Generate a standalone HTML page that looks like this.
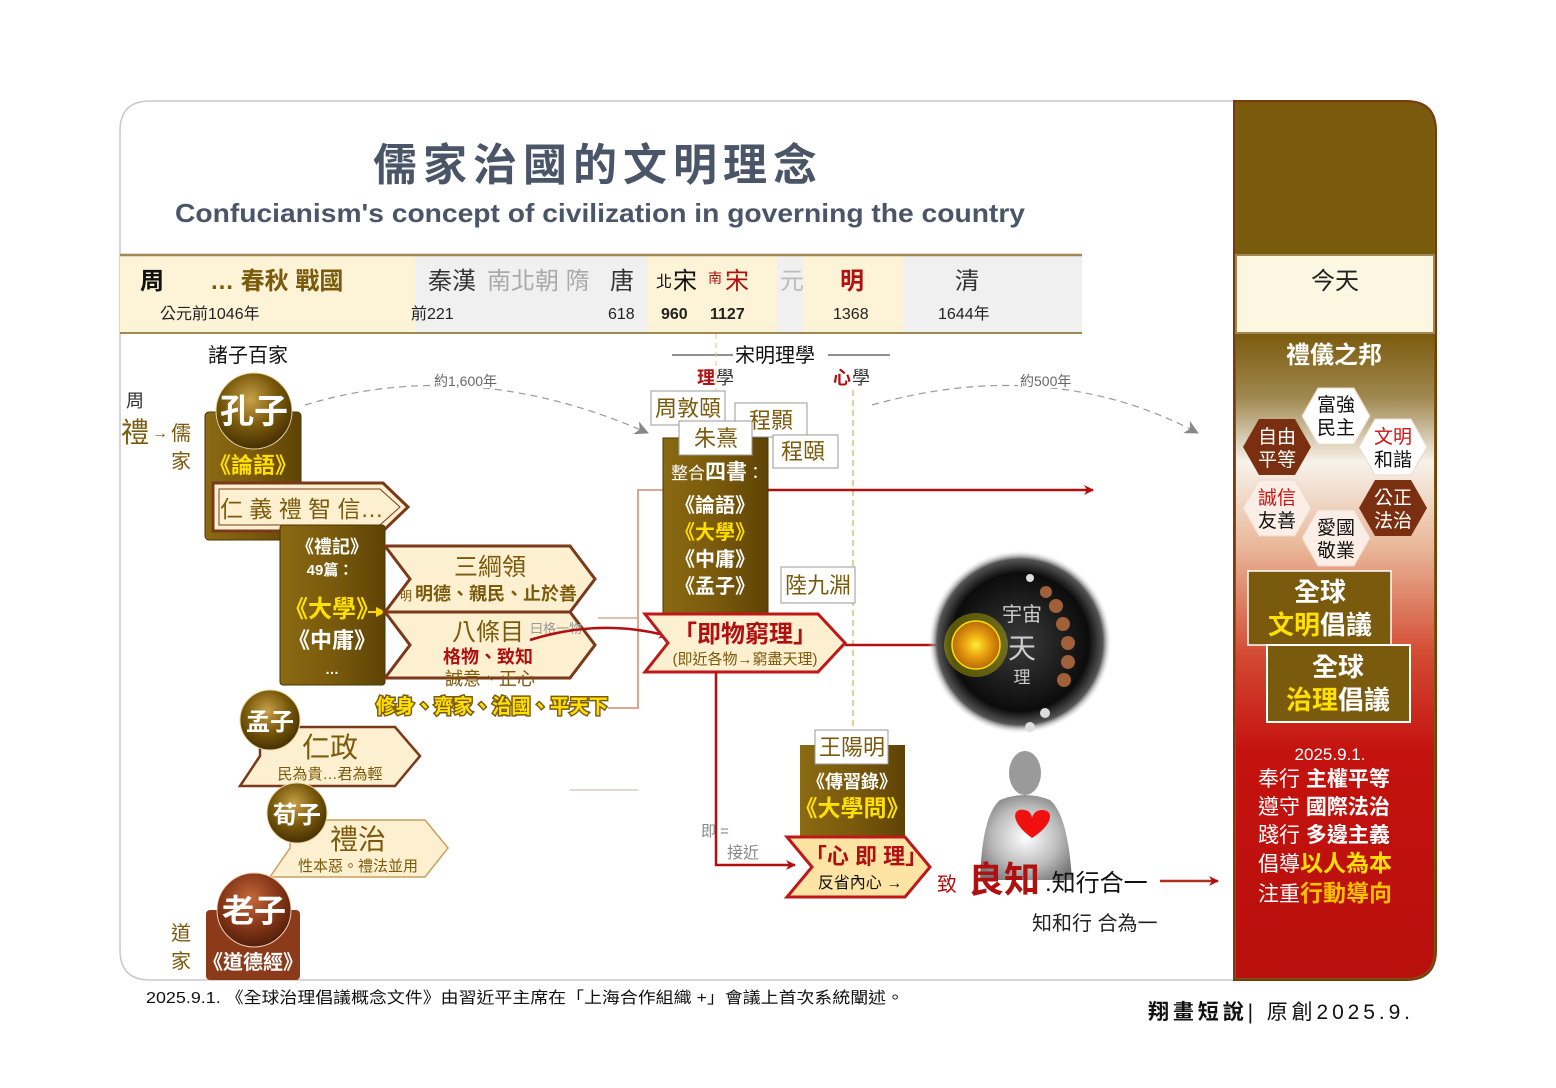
<!DOCTYPE html>
<html><head><meta charset="utf-8"><style>
html,body{margin:0;padding:0;background:#fff;}
svg{display:block;font-family:"Liberation Sans","Noto Sans CJK TC",sans-serif;}
</style></head><body>
<svg width="1556" height="1088" viewBox="0 0 1556 1088" xmlns="http://www.w3.org/2000/svg">
<defs>
<linearGradient id="olive" x1="0" y1="0" x2="1" y2="0"><stop offset="0" stop-color="#8a6a12"/><stop offset="0.5" stop-color="#7a5a0c"/><stop offset="1" stop-color="#5e4306"/></linearGradient>
<radialGradient id="ball" cx="0.45" cy="0.35" r="0.7"><stop offset="0" stop-color="#c9a24a"/><stop offset="0.5" stop-color="#7a5a0c"/><stop offset="1" stop-color="#3e2a02"/></radialGradient>
<radialGradient id="ballR" cx="0.45" cy="0.35" r="0.7"><stop offset="0" stop-color="#c4683a"/><stop offset="0.5" stop-color="#8b3a1a"/><stop offset="1" stop-color="#4a1a08"/></radialGradient>
<linearGradient id="right" x1="0" y1="0" x2="0" y2="1">
<stop offset="0" stop-color="#7a5a0c"/><stop offset="0.1" stop-color="#a08850"/><stop offset="0.2" stop-color="#f6f2ea"/><stop offset="0.33" stop-color="#e9b89a"/><stop offset="0.5" stop-color="#d34a32"/><stop offset="0.65" stop-color="#c4120f"/><stop offset="1" stop-color="#b8100c"/></linearGradient>
<radialGradient id="sphere" cx="0.5" cy="0.5" r="0.5"><stop offset="0" stop-color="#3a3a3a"/><stop offset="0.75" stop-color="#0c0c0c"/><stop offset="0.9" stop-color="#555"/><stop offset="1" stop-color="#fff" stop-opacity="0"/></radialGradient>
<radialGradient id="sun" cx="0.5" cy="0.5" r="0.5"><stop offset="0" stop-color="#ffee30"/><stop offset="0.5" stop-color="#e8a010"/><stop offset="1" stop-color="#b86a08"/></radialGradient>
<radialGradient id="man" cx="0.5" cy="0.5" r="0.6"><stop offset="0" stop-color="#fff"/><stop offset="0.6" stop-color="#bbb"/><stop offset="1" stop-color="#777"/></radialGradient>
<marker id="ar" markerWidth="10" markerHeight="10" refX="9" refY="5" orient="auto" markerUnits="userSpaceOnUse"><path d="M0,0 L10,5 L0,10 L3,5z" fill="#b01010"/></marker>
<marker id="ag" markerWidth="14" markerHeight="14" refX="13" refY="7" orient="auto" markerUnits="userSpaceOnUse"><path d="M0,0 L14,7 L0,14 L4,7z" fill="#888"/></marker>
<marker id="ay" markerWidth="10" markerHeight="10" refX="9" refY="5" orient="auto" markerUnits="userSpaceOnUse"><path d="M0,0 L10,5 L0,10z" fill="#ffd800"/></marker>
</defs>

<path d="M150,101 H1234 V980 H150 Q120,980 120,950 V131 Q120,101 150,101z" fill="#fff" stroke="#c8c8c8" stroke-width="1.5"/>
<path d="M1234,101 H1406 Q1436,101 1436,131 V950 Q1436,980 1406,980 H1234z" fill="#7a5a0c" stroke="#7a3a10" stroke-width="2"/>
<path d="M1236,333 H1434 V950 Q1434,978 1406,978 H1236z" fill="url(#right)"/>
<rect x="1236" y="255" width="198" height="78" fill="#fdf6e0" stroke="#a08850" stroke-width="2"/>
<text x="1335" y="289" font-size="24" text-anchor="middle" fill="#222">今天</text>

<text x="598" y="180" font-size="44" font-weight="bold" text-anchor="middle" fill="#4a5568" letter-spacing="6">儒家治國的文明理念</text>
<text x="600" y="222" font-size="26" font-weight="bold" text-anchor="middle" fill="#4a5568" textLength="850" lengthAdjust="spacingAndGlyphs">Confucianism's concept of civilization in governing the country</text>

<rect x="120" y="256" width="295" height="77" fill="#fdf3d6"/>
<rect x="415" y="256" width="233" height="77" fill="#f0f0f0"/>
<rect x="648" y="256" width="129" height="77" fill="#fdf3d6"/>
<rect x="777" y="256" width="26" height="77" fill="#f0f0f0"/>
<rect x="803" y="256" width="100" height="77" fill="#fdf3d6"/>
<rect x="903" y="256" width="179" height="77" fill="#f0f0f0"/>
<line x1="120" y1="255" x2="1082" y2="255" stroke="#a08850" stroke-width="2.5"/>
<line x1="120" y1="333" x2="1082" y2="333" stroke="#a08850" stroke-width="2"/>
<g font-size="24">
<text x="140" y="289" font-weight="bold" fill="#111">周</text>
<text x="210" y="289" font-weight="bold" fill="#7a5a0c">… 春秋  戰國</text>
<text x="428" y="289" fill="#333">秦漢</text>
<text x="487" y="289" fill="#aaa">南北朝 隋</text>
<text x="610" y="289" fill="#333">唐</text>
<text x="656" y="287" font-size="16" fill="#111">北</text><text x="673" y="289" fill="#111">宋</text>
<text x="708" y="283" font-size="14" fill="#b01010">南</text><text x="725" y="289" fill="#b01010">宋</text>
<text x="780" y="289" fill="#bbb">元</text>
<text x="840" y="289" font-weight="bold" fill="#b01010">明</text>
<text x="955" y="289" fill="#333">清</text>
</g>
<g font-size="16" fill="#222">
<text x="160" y="319">公元前1046年</text><text x="411" y="319">前221</text><text x="608" y="319">618</text>
<text x="661" y="319" font-weight="bold">960</text><text x="710" y="319" font-weight="bold">1127</text>
<text x="833" y="319">1368</text><text x="938" y="319">1644年</text>
</g>

<text x="208" y="362" font-size="20" fill="#111">諸子百家</text>
<text x="126" y="407" font-size="18" fill="#333">周</text>
<text x="121" y="442" font-size="28" fill="#7a5a0c">禮</text>
<text x="152" y="438" font-size="16" fill="#7a5a0c">→</text>
<text x="171" y="440" font-size="20" fill="#7a5a0c">儒</text>
<text x="171" y="468" font-size="20" fill="#7a5a0c">家</text>
<text x="171" y="940" font-size="20" fill="#7a5a0c">道</text>
<text x="171" y="968" font-size="20" fill="#7a5a0c">家</text>

<path d="M305,405 Q470,355 648,433" fill="none" stroke="#999" stroke-width="1.2" stroke-dasharray="7,5" marker-end="url(#ag)"/>
<rect x="432" y="372" width="74" height="16" fill="#fff"/>
<text x="434" y="386" font-size="14" fill="#666">約1,600年</text>
<path d="M872,405 Q1050,355 1198,433" fill="none" stroke="#999" stroke-width="1.2" stroke-dasharray="7,5" marker-end="url(#ag)"/>
<rect x="1018" y="372" width="62" height="16" fill="#fff"/>
<text x="1020" y="386" font-size="14" fill="#666">約500年</text>

<rect x="205" y="412" width="96" height="128" rx="4" fill="url(#olive)" stroke="#4a3405"/>
<circle cx="254" cy="411" r="38" fill="url(#ball)" stroke="#e8d8a0" stroke-width="1"/>
<text x="254" y="423" font-size="34" font-weight="bold" text-anchor="middle" fill="#fff">孔子</text>
<text x="253" y="473" font-size="22" font-weight="bold" text-anchor="middle" fill="#ffe000">《論語》</text>
<polygon points="213,483 383,483 408,507 383,531 213,531" fill="#fdf0d0" stroke="#7a3a1a" stroke-width="3"/>
<polygon points="219,489 380,489 400,507 380,525 219,525" fill="none" stroke="#7a3a1a" stroke-width="1"/>
<text x="220" y="517" font-size="23" fill="#7a5a0c">仁 義 禮 智 信…</text>

<rect x="280" y="525" width="105" height="160" rx="3" fill="url(#olive)" stroke="#4a3405"/>
<text x="332" y="553" font-size="18" font-weight="bold" text-anchor="middle" fill="#fff">《禮記》</text>
<text x="330" y="575" font-size="15" font-weight="bold" text-anchor="middle" fill="#fff">49篇：</text>
<text x="332" y="617" font-size="24" font-weight="bold" text-anchor="middle" fill="#ffe000">《大學》</text>
<text x="332" y="648" font-size="22" font-weight="bold" text-anchor="middle" fill="#fff">《中庸》</text>
<text x="332" y="674" font-size="14" font-weight="bold" text-anchor="middle" fill="#fff">…</text>
<line x1="368" y1="612" x2="385" y2="612" stroke="#ffd800" stroke-width="2" marker-end="url(#ay)"/>

<polygon points="385,546 570,546 595,579 570,612 385,612 410,579" fill="#fdf0d0" stroke="#7a3a1a" stroke-width="3"/>
<polygon points="385,612 570,612 595,645 570,678 385,678 410,645" fill="#fdf0d0" stroke="#7a3a1a" stroke-width="3"/>
<text x="490" y="575" font-size="24" text-anchor="middle" fill="#7a5a0c">三綱領</text>
<text x="400" y="600" font-size="12" fill="#7a5a0c">明</text>
<text x="415" y="600" font-size="18" font-weight="bold" fill="#7a5a0c">明德、親民、止於善</text>
<text x="488" y="640" font-size="24" text-anchor="middle" fill="#7a5a0c">八條目</text>
<text x="530" y="633" font-size="13" fill="#999">曰格一物</text>
<text x="443" y="663" font-size="18" font-weight="bold" fill="#b01010">格物、致知</text>
<text x="445" y="685" font-size="18" fill="#7a5a0c">誠意、正心</text>
<g font-size="20" font-weight="bold" fill="#ffe000" stroke="#7a5a0c" stroke-width="3" paint-order="stroke">
<text x="376" y="713" textLength="232" lengthAdjust="spacingAndGlyphs">修身、齊家、治國、平天下</text></g>

<polygon points="260,727 395,727 420,756 395,786 240,786 260,756" fill="#fdf0d0" stroke="#7a3a1a" stroke-width="2.5"/>
<circle cx="270" cy="720" r="30" fill="url(#ball)" stroke="#e8d8a0"/>
<text x="270" y="730" font-size="24" font-weight="bold" text-anchor="middle" fill="#fff">孟子</text>
<text x="330" y="757" font-size="28" text-anchor="middle" fill="#7a5a0c">仁政</text>
<text x="330" y="779" font-size="15" text-anchor="middle" fill="#7a5a0c">民為貴…君為輕</text>
<polygon points="290,820 425,820 448,848 425,877 270,877 290,848" fill="#fdf0d0" stroke="#c8a060" stroke-width="1.5"/>
<circle cx="297" cy="813" r="30" fill="url(#ball)" stroke="#e8d8a0"/>
<text x="297" y="823" font-size="24" font-weight="bold" text-anchor="middle" fill="#fff">荀子</text>
<text x="358" y="849" font-size="28" text-anchor="middle" fill="#7a5a0c">禮治</text>
<text x="358" y="871" font-size="15" text-anchor="middle" fill="#7a5a0c">性本惡。禮法並用</text>
<rect x="206" y="910" width="94" height="70" rx="4" fill="#8b3a1a"/>
<circle cx="254" cy="910" r="37" fill="url(#ballR)" stroke="#f0d0b0"/>
<text x="254" y="922" font-size="32" font-weight="bold" text-anchor="middle" fill="#fff">老子</text>
<text x="253" y="969" font-size="20" font-weight="bold" text-anchor="middle" fill="#fff">《道德經》</text>

<line x1="672" y1="355" x2="733" y2="355" stroke="#222"/>
<line x1="828" y1="355" x2="890" y2="355" stroke="#222"/>
<text x="735" y="362" font-size="20" fill="#111">宋明理學</text>
<text x="697" y="384" font-size="18" font-weight="bold" fill="#b01010">理</text><text x="716" y="384" font-size="18" fill="#333">學</text>
<text x="833" y="384" font-size="18" font-weight="bold" fill="#b01010">心</text><text x="852" y="384" font-size="18" fill="#333">學</text>
<line x1="716" y1="334" x2="716" y2="392" stroke="#d8c890" stroke-dasharray="5,4"/>
<line x1="853" y1="390" x2="853" y2="900" stroke="#c8b060" stroke-width="1.2" stroke-dasharray="6,4"/>

<path d="M663,490 H638 V708 H608" fill="none" stroke="#d8a890" stroke-width="2"/>
<line x1="598" y1="618" x2="638" y2="618" stroke="#d8a890" stroke-width="1.5"/>
<line x1="570" y1="790" x2="638" y2="790" stroke="#d8c8c0" stroke-width="1.5"/>
<line x1="768" y1="490" x2="1093" y2="490" stroke="#b01010" stroke-width="2.5" marker-end="url(#ar)"/>
<path d="M530,640 Q600,618 668,636" fill="none" stroke="#b01010" stroke-width="2.5" marker-end="url(#ar)"/>

<rect x="663" y="438" width="105" height="176" fill="url(#olive)" stroke="#4a3405"/>
<rect x="651" y="391" width="74" height="34" fill="#fff" stroke="#999"/>
<text x="688" y="416" font-size="22" text-anchor="middle" fill="#7a5a0c">周敦頤</text>
<rect x="735" y="403" width="72" height="34" fill="#fff" stroke="#999"/>
<text x="771" y="428" font-size="22" text-anchor="middle" fill="#7a5a0c">程顥</text>
<rect x="773" y="435" width="65" height="33" fill="#fff" stroke="#999"/>
<text x="803" y="459" font-size="22" text-anchor="middle" fill="#7a5a0c">程頤</text>
<rect x="679" y="421" width="73" height="34" fill="#fff" stroke="#999"/>
<text x="716" y="446" font-size="22" text-anchor="middle" fill="#7a5a0c">朱熹</text>
<text x="671" y="479" font-size="17" fill="#fff">整合<tspan font-size="21" font-weight="bold">四書</tspan>：</text>
<g font-size="20" font-weight="bold" text-anchor="middle" fill="#fff">
<text x="715" y="512">《論語》</text><text x="715" y="539" fill="#ffe000">《大學》</text><text x="715" y="566">《中庸》</text><text x="715" y="593">《孟子》</text></g>
<rect x="781" y="567" width="74" height="36" fill="#fff" stroke="#999"/>
<text x="818" y="593" font-size="22" text-anchor="middle" fill="#7a5a0c">陸九淵</text>

<polygon points="645,614 818,614 845,643 818,672 645,672 668,643" fill="#fdf0d0" stroke="#c01818" stroke-width="3"/>
<text x="745" y="642" font-size="24" font-weight="bold" text-anchor="middle" fill="#b01010">「即物窮理」</text>
<text x="745" y="664" font-size="15" text-anchor="middle" fill="#7a5a0c">(即近各物→窮盡天理)</text>
<line x1="845" y1="645" x2="945" y2="645" stroke="#b01010" stroke-width="2.5" marker-end="url(#ar)"/>
<path d="M716,672 V865 H795" fill="none" stroke="#b01010" stroke-width="2.5" marker-end="url(#ar)"/>
<text x="701" y="836" font-size="15" fill="#888">即 =</text>
<text x="727" y="858" font-size="16" fill="#888">接近</text>

<circle cx="1020" cy="642" r="92" fill="url(#sphere)"/>
<g fill="#a0603a"><circle cx="1046" cy="592" r="6"/><circle cx="1056" cy="606" r="7"/><circle cx="1063" cy="624" r="7"/><circle cx="1068" cy="643" r="7"/><circle cx="1068" cy="662" r="7"/><circle cx="1064" cy="680" r="7"/></g>
<g fill="#ddd"><circle cx="1030" cy="578" r="4"/><circle cx="1045" cy="713" r="5"/><circle cx="1030" cy="727" r="5"/></g>
<circle cx="976" cy="645" r="32" fill="#e8e000" opacity="0.35"/>
<circle cx="976" cy="645" r="24" fill="url(#sun)" stroke="#ffe000" stroke-width="1.5"/>
<text x="1022" y="621" font-size="20" text-anchor="middle" fill="#ccc">宇宙</text>
<text x="1022" y="658" font-size="28" text-anchor="middle" fill="#ccc">天</text>
<text x="1022" y="683" font-size="17" text-anchor="middle" fill="#ccc">理</text>

<ellipse cx="1025" cy="773" rx="16" ry="22" fill="#9a9a9a"/>
<path d="M1000,800 Q1025,790 1050,800 Q1068,815 1072,880 L980,880 Q982,815 1000,800z" fill="url(#man)"/>
<path d="M1032,838 C1010,822 1012,808 1024,810 C1030,810 1032,816 1032,818 C1033,814 1036,810 1042,810 C1054,810 1054,824 1032,838z" fill="#f01010"/>

<rect x="800" y="745" width="105" height="95" fill="url(#olive)"/>
<rect x="815" y="730" width="73" height="34" fill="#fff" stroke="#999"/>
<text x="852" y="755" font-size="22" text-anchor="middle" fill="#7a5a0c">王陽明</text>
<text x="852" y="788" font-size="18" font-weight="bold" text-anchor="middle" fill="#fff">《傳習錄》</text>
<text x="852" y="816" font-size="23" font-weight="bold" text-anchor="middle" fill="#ffe000">《大學問》</text>
<polygon points="787,837 905,837 930,867 905,897 787,897 812,867" fill="#fde4a4" stroke="#c01818" stroke-width="3"/>
<text x="866" y="864" font-size="22" font-weight="bold" text-anchor="middle" fill="#b01010">「心 即 理」</text>
<text x="860" y="888" font-size="16" text-anchor="middle" fill="#111">反省內心 →</text>
<text x="937" y="891" font-size="20" fill="#b01010">致</text>
<text x="968" y="892" font-size="36" font-weight="bold" fill="#b01010">良知</text>
<text x="1045" y="891" font-size="24" fill="#111">.知行合一</text>
<line x1="1160" y1="881" x2="1218" y2="881" stroke="#b03020" stroke-width="2.5" marker-end="url(#ar)"/>
<text x="1032" y="930" font-size="20" fill="#222">知和行 合為一</text>

<text x="1334" y="363" font-size="24" font-weight="bold" text-anchor="middle" fill="#fff">禮儀之邦</text>
<g font-size="19" text-anchor="middle">
<polygon points="1318,388 1354,388 1370,416 1354,444 1318,444 1302,416" fill="#fff" stroke="#f0d8c8"/>
<text x="1336" y="411" fill="#111">富強</text><text x="1336" y="434" fill="#111">民主</text>
<polygon points="1259,419 1295,419 1311,447 1295,475 1259,475 1243,447" fill="#7a3010"/>
<text x="1277" y="443" fill="#fff">自由</text><text x="1277" y="466" fill="#fff">平等</text>
<polygon points="1375,419 1411,419 1427,447 1411,475 1375,475 1359,447" fill="#fff" stroke="#f0d8c8"/>
<text x="1393" y="443" fill="#d01010">文明</text><text x="1393" y="466" fill="#111">和諧</text>
<polygon points="1259,480 1295,480 1311,508 1295,536 1259,536 1243,508" fill="#fbeee6" stroke="#f0d8c8"/>
<text x="1277" y="504" fill="#d01010">誠信</text><text x="1277" y="527" fill="#111">友善</text>
<polygon points="1375,480 1411,480 1427,508 1411,536 1375,536 1359,508" fill="#7a3010"/>
<text x="1393" y="504" fill="#fff">公正</text><text x="1393" y="527" fill="#fff">法治</text>
<polygon points="1318,510 1354,510 1370,538 1354,566 1318,566 1302,538" fill="#fbeee6" stroke="#f0d8c8"/>
<text x="1336" y="534" fill="#111">愛國</text><text x="1336" y="557" fill="#111">敬業</text>
</g>
<rect x="1248" y="571" width="143" height="74" fill="#7a5a0c" stroke="#fff" stroke-width="1.5"/>
<text x="1320" y="601" font-size="26" font-weight="bold" text-anchor="middle" fill="#fff">全球</text>
<text x="1320" y="634" font-size="26" font-weight="bold" text-anchor="middle" fill="#ffe000">文明<tspan fill="#fff">倡議</tspan></text>
<rect x="1267" y="645" width="143" height="77" fill="#7a5a0c" stroke="#fff" stroke-width="2"/>
<text x="1338" y="676" font-size="26" font-weight="bold" text-anchor="middle" fill="#fff">全球</text>
<text x="1338" y="709" font-size="26" font-weight="bold" text-anchor="middle" fill="#ffe000">治理<tspan fill="#fff">倡議</tspan></text>
<text x="1330" y="760" font-size="17" text-anchor="middle" fill="#fff">2025.9.1.</text>
<g font-size="21" fill="#fff">
<text x="1258" y="786">奉行 <tspan font-weight="bold">主權平等</tspan></text>
<text x="1258" y="814">遵守 <tspan font-weight="bold">國際法治</tspan></text>
<text x="1258" y="842">踐行 <tspan font-weight="bold">多邊主義</tspan></text>
<text x="1258" y="871">倡導<tspan font-weight="bold" fill="#ffe000" font-size="23">以人為本</tspan></text>
<text x="1258" y="901">注重<tspan font-weight="bold" fill="#ffc000" font-size="23">行動導向</tspan></text>
</g>

<text x="146" y="1003" font-size="16" fill="#111" textLength="758" lengthAdjust="spacingAndGlyphs">2025.9.1. 《全球治理倡議概念文件》由習近平主席在「上海合作組織 +」會議上首次系統闡述。</text>
<text x="1148" y="1019" font-size="21" fill="#111" textLength="262" lengthAdjust="spacing"><tspan font-weight="bold">翔畫短說</tspan>|  原創2025.9.</text>
</svg>
</body></html>
